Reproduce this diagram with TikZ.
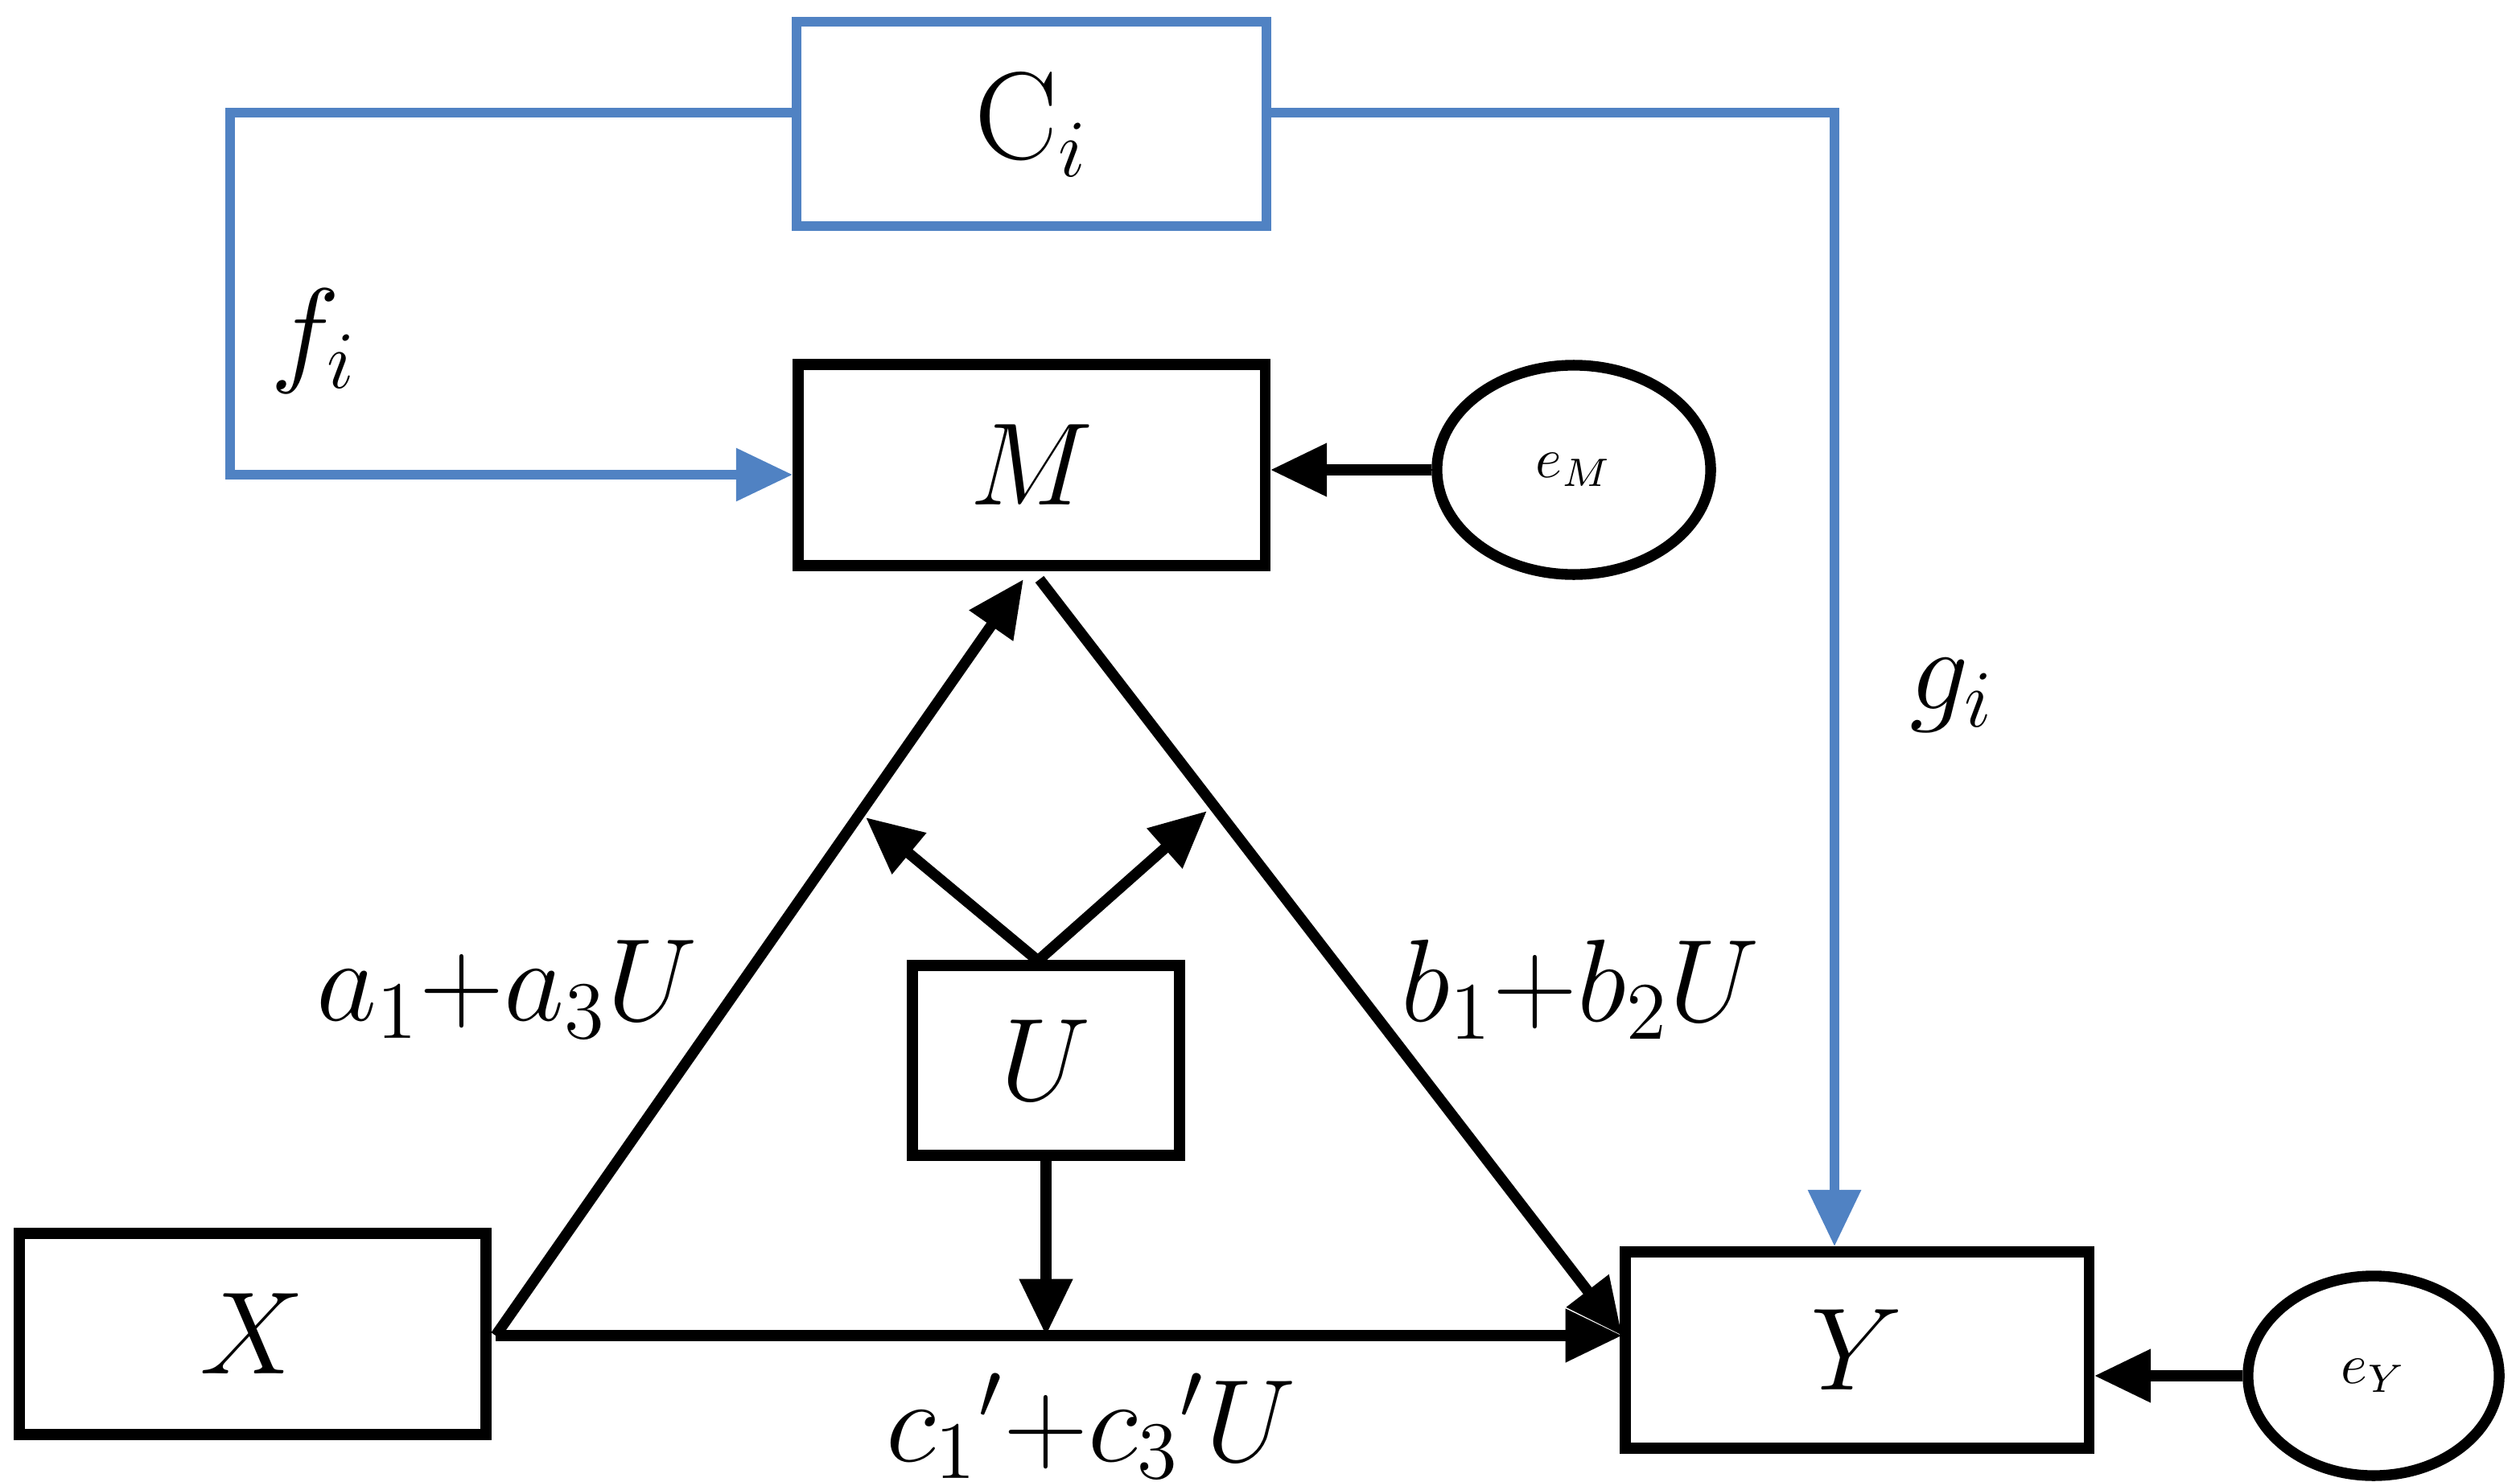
\documentclass[tikz,border=0pt]{standalone}
\usetikzlibrary{arrows.meta,shapes.geometric}
\definecolor{cblue}{RGB}{80,130,195}
\begin{document}
\begin{tikzpicture}[x=0.01cm,y=-0.01cm,
  box/.style={draw,line width=1.9pt,minimum width=2.9cm,minimum height=1.25cm,inner sep=0pt},
  blue line/.style={draw=cblue,line width=1.7pt},
  blk/.style={line width=1.9pt,-{Triangle[length=10pt,width=9pt]}},
  bl/.style={blue line,-{Triangle[length=10pt,width=9pt]}},
  lab/.style={font=\fontsize{22}{26}\selectfont},
  ell/.style={draw,ellipse,line width=1.9pt,minimum width=1.7cm,minimum height=1.3cm,inner sep=0pt}]
\useasboundingbox (0,0) rectangle (1566,921);
\node[box,blue line,minimum width=2.92cm,minimum height=1.27cm,lab] (C) at (641,77) {C$_i$};
\node[box,lab] (M) at (641,289) {$M$};
\node[box,minimum width=1.66cm,minimum height=1.18cm,lab] (U) at (650,659) {$U$};
\node[box,lab] (X) at (157,829) {$X$};
\node[box,minimum width=2.88cm,minimum height=1.22cm,lab] (Y) at (1154,839) {$Y$};
\node[ell] (eM) at (978,292) {$e_M$};
\node[ell,minimum width=1.56cm,minimum height=1.24cm] (eY) at (1475,855) {$e_Y$};
\coordinate (c1) at (143,70);
\coordinate (c2) at (143,295);
\coordinate (c3) at (1140,70);
\draw[bl] (C.west |- c1) -- (c1) -- (c2) -- (M.west |- c2);
\draw[bl] (C.east |- c3) -- (c3) -- (c3 |- Y.north);
\draw[blk] (eM) -- (M.east |- eM);
\draw[blk] (eY) -- (Y.east |- eY);
\coordinate (xr) at (308,830);
\coordinate (yl) at (1008,830);
\draw[blk] (xr) -- (636,360);
\draw[blk] (646,360) -- (yl);
\draw[blk] (xr) -- (yl);
\coordinate (ut) at (645,597);
\coordinate (ua) at (538,508);
\coordinate (ub) at (750,504);
\coordinate (ud) at (650,830);
\draw[blk] (ut) -- (ua);
\draw[blk] (ut) -- (ub);
\draw[blk] (U.south -| ud) -- (ud);
\node[lab] (fl) at (195,212) {$f_i$};
\node[lab] (gl) at (1213,432) {$g_i$};
\node[lab] (al) at (315,615) {$a_1{+}a_3U$};
\node[lab] (bl) at (982,615) {$b_1{+}b_2U$};
\node[lab,anchor=base] (cl) at (678,908) {$c_1\mathrm{'}{+}c_3\mathrm{'}U$};
\end{tikzpicture}
\end{document}
